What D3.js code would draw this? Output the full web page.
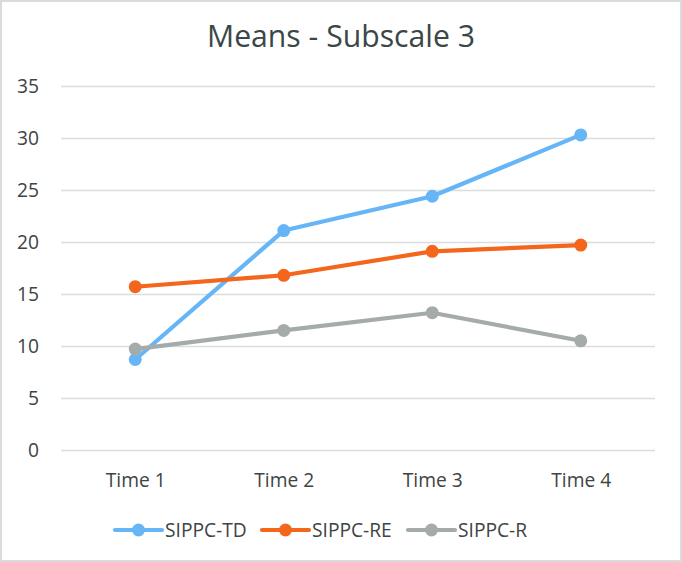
<!DOCTYPE html>
<html><head><meta charset="utf-8">
<script src="https://cdn.jsdelivr.net/npm/d3@7/dist/d3.min.js"></script>
<style>body{margin:0;background:#fff}svg{display:block}</style>
</head><body>
<script>
const categories = ["Time 1", "Time 2", "Time 3", "Time 4"];
const seriesNames = ["SIPPC-TD", "SIPPC-RE", "SIPPC-R"];
const tdValues = [8.7, 21.1, 24.4, 30.3];
const reValues = [15.7, 16.8, 19.1, 19.7];
const rValues = [9.7, 11.5, 13.2, 10.5];
const yTicks = [0, 5, 10, 15, 20, 25, 30, 35];
const colors = ["#66b5f6", "#f4661b", "#a5abaa"];
const title = "Means - Subscale 3";

(function () {
const W = 682, H = 562;
const svg = d3.select("body").append("svg").attr("width", W).attr("height", H);
svg.append("rect").attr("x", 1).attr("y", 1).attr("width", W - 2).attr("height", H - 2)
  .attr("fill", "#fff").attr("stroke", "#d9dcdb").attr("stroke-width", 2);

const font = "'Open Sans', 'Noto Sans', sans-serif";
function fit(sel, target) {
  const n = sel.node(); const fs = +sel.attr("font-size");
  const w = n.getComputedTextLength();
  if (w > 0) sel.attr("font-size", (fs * target / w).toFixed(2));
}
const mLeft = 61, mRight = 655, mTop = 86, mBottom = 450;
const x = d3.scalePoint().domain(categories).range([mLeft, mRight]).padding(0.5);
const y = d3.scaleLinear().domain([0, 35]).range([mBottom, mTop]);

const tt = svg.append("text").attr("x", 341).attr("y", 47).attr("text-anchor", "middle")
  .attr("font-family", font).attr("font-size", 30).attr("fill", "#3b4747").text(title);
fit(tt, 268);

const axisFs = (function () {
  const tmp = svg.append("text").attr("font-family", font).attr("font-size", 17).text(categories[0]);
  fit(tmp, 60); const f = +tmp.attr("font-size"); tmp.remove(); return f;
})();

const yAxis = d3.axisLeft(y).tickValues(yTicks).tickSize(-(mRight - mLeft)).tickPadding(22);
const gy = svg.append("g").attr("transform", `translate(${mLeft},0)`).call(yAxis);
gy.select(".domain").remove();
gy.selectAll(".tick line").attr("stroke", "#d9dddc").attr("stroke-width", 1.3);
gy.selectAll(".tick text").attr("font-family", font).attr("font-size", axisFs).attr("fill", "#3e4444");

const xAxis = d3.axisBottom(x).tickSize(0).tickPadding(23);
const gx = svg.append("g").attr("transform", `translate(0,${mBottom})`).call(xAxis);
gx.select(".domain").remove();
gx.selectAll(".tick text").attr("font-family", font).attr("font-size", axisFs).attr("fill", "#3e4444");

const data = [tdValues, reValues, rValues];
const line = d3.line().x((d, i) => x(categories[i])).y(d => y(d));
data.forEach((vals, si) => {
  svg.append("path").datum(vals).attr("d", line).attr("fill", "none")
    .attr("stroke", colors[si]).attr("stroke-width", 4.2).attr("stroke-linejoin", "round");
  svg.selectAll(null).data(vals).enter().append("circle")
    .attr("cx", (d, i) => x(categories[i])).attr("cy", d => y(d)).attr("r", 6.5)
    .attr("fill", colors[si]);
});

const legX = [115, 262, 408];
const legY = 530;
seriesNames.forEach((name, i) => {
  const g = svg.append("g").attr("transform", `translate(${legX[i]},${legY})`);
  g.append("line").attr("x1", 0).attr("x2", 47).attr("y1", 0).attr("y2", 0)
    .attr("stroke", colors[i]).attr("stroke-width", 4.2).attr("stroke-linecap", "round");
  g.append("circle").attr("cx", 23.5).attr("cy", 0).attr("r", 6.5).attr("fill", colors[i]);
  g.append("text").attr("x", 50).attr("y", 0).attr("dy", "0.35em")
    .attr("font-family", font).attr("font-size", axisFs).attr("fill", "#3e4444").text(name);
});
})();
</script>
</body></html>
